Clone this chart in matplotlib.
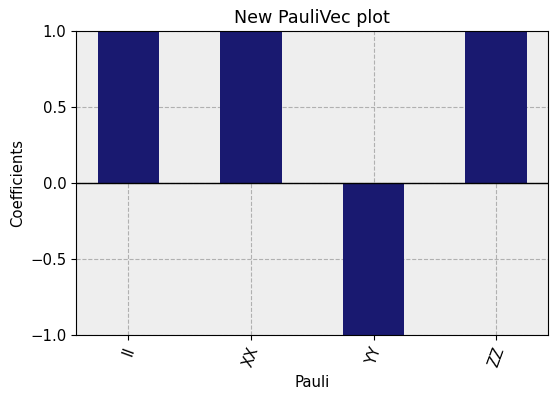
import matplotlib
matplotlib.use("Agg")
import matplotlib.pyplot as plt
import numpy as np

labels = ["II", "XX", "YY", "ZZ"]
values = [1.0, 1.0, -1.0, 1.0]
yticks = [-1.0, -0.5, 0.0, 0.5, 1.0]

fig, ax = plt.subplots(figsize=(5.6, 4.0), dpi=100)
fig.subplots_adjust(left=0.136, right=0.979, top=0.922, bottom=0.162)
ind = np.arange(len(labels))
ax.set_facecolor("#eeeeee")
ax.grid(True, linestyle="--", color="#b0b0b0", linewidth=0.8, zorder=0)
ax.set_axisbelow(True)
ax.bar(ind, values, 0.5, color="#191970", zorder=2)
ax.axhline(0, color="black", linewidth=1, zorder=3)
ax.set_xticks(ind)
ax.set_xticklabels(labels, rotation=70)
ax.set_yticks(yticks)
ax.set_ylim(-1, 1)
ax.tick_params(labelsize=10.7)
ax.set_xlabel("Pauli", fontsize=10.7)
ax.set_ylabel("Coefficients", fontsize=10.7)
ax.set_title("New PauliVec plot", fontsize=12.6)
fig.savefig("out.png", dpi=100)
